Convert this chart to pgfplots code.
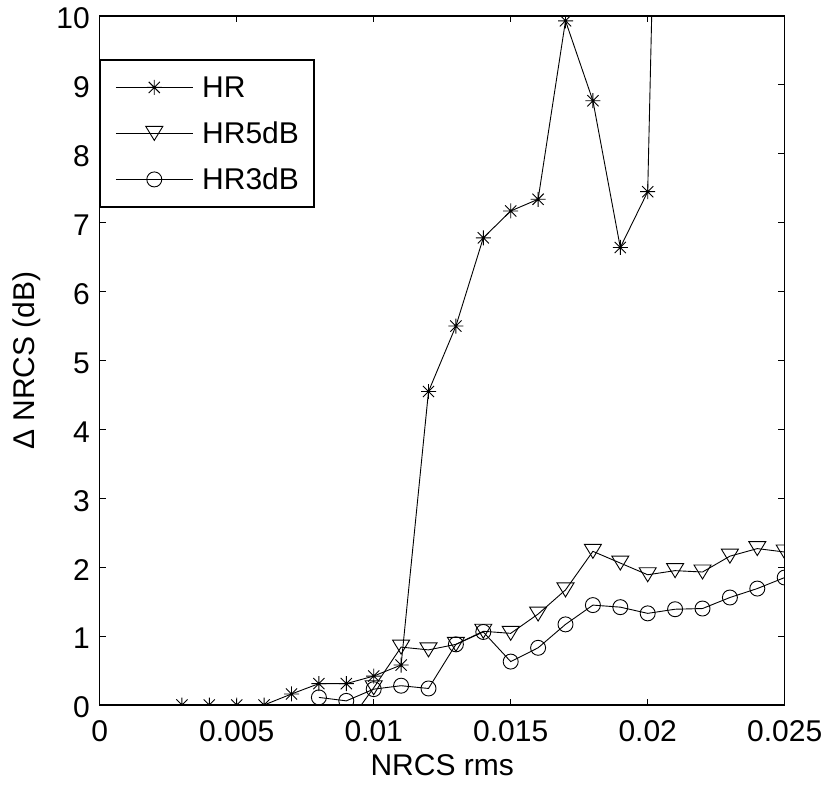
\documentclass[border=0pt]{standalone}
\usepackage{fontspec}
\setmainfont{Liberation Sans}
\usepackage{pgfplots}
\pgfplotsset{compat=1.18}

\pgfdeclareplotmark{mstar}{%
  \pgfpathmoveto{\pgfqpoint{0bp}{-7.5bp}}\pgfpathlineto{\pgfqpoint{0bp}{7.5bp}}%
  \pgfpathmoveto{\pgfqpoint{-7.5bp}{0bp}}\pgfpathlineto{\pgfqpoint{7.5bp}{0bp}}%
  \pgfpathmoveto{\pgfqpoint{-5.6bp}{-5.6bp}}\pgfpathlineto{\pgfqpoint{5.6bp}{5.6bp}}%
  \pgfpathmoveto{\pgfqpoint{-5.6bp}{5.6bp}}\pgfpathlineto{\pgfqpoint{5.6bp}{-5.6bp}}%
  \pgfusepathqstroke}
\pgfdeclareplotmark{mtri}{%
  \pgfpathmoveto{\pgfqpoint{-8.5bp}{7bp}}\pgfpathlineto{\pgfqpoint{8.5bp}{7bp}}%
  \pgfpathlineto{\pgfqpoint{0bp}{-7bp}}\pgfpathclose\pgfusepathqstroke}
\pgfdeclareplotmark{mcirc}{%
  \pgfpathcircle{\pgfpointorigin}{7.5bp}\pgfusepathqstroke}

\begin{document}
\begin{tikzpicture}
\begin{axis}[
  scale only axis, width=685bp, height=689bp,
  xmin=0, xmax=0.025, ymin=0, ymax=10,
  scaled x ticks=false, scaled y ticks=false,
  xtick={0,0.005,0.01,0.015,0.02,0.025},
  xticklabels={0,0.005,0.01,0.015,0.02,0.025},
  ytick={0,1,2,3,4,5,6,7,8,9,10},
  yticklabels={0,1,2,3,4,5,6,7,8,9,10},
  tick align=inside, tick pos=both,
  major tick length=6.5bp,
  every tick/.style={black, line width=1bp},
  axis line style={line width=1.3bp},
  font=\fontsize{30bp}{36bp}\selectfont,
  xticklabel style={inner sep=0pt, anchor=north, yshift=-15.7bp},
  yticklabel style={inner sep=0pt, anchor=east, xshift=-9.7bp, yshift=-2.5bp},
  xlabel={NRCS rms},
  ylabel={Δ NRCS (dB)},
  xlabel style={at={(axis description cs:0.5,-0.103)}, anchor=base, inner sep=0pt},
  ylabel style={at={(axis description cs:-0.0945,0.5)}, anchor=base, inner sep=0pt},
  clip marker paths=true,
  legend style={at={(axis description cs:0,0.9372)}, anchor=north west,
    draw=black, line width=1.3bp, inner xsep=15bp, inner ysep=17bp,
    row sep=25bp, column sep=9bp,
    nodes={inner sep=0pt, text height=21bp, text depth=0bp},
    font=\fontsize{30bp}{36bp}\selectfont},
  legend cell align=left,
  legend image code/.code={\draw[mark repeat=2,mark phase=2,#1] plot coordinates {(0bp,0bp) (38.5bp,0bp) (77bp,0bp)};},
]
\addplot[black, line width=0.9bp, mark=mstar] coordinates {
 (0.003,0) (0.004,0) (0.005,0) (0.006,0) (0.007,0.16) (0.008,0.31) (0.009,0.31)
 (0.010,0.42) (0.011,0.58) (0.012,4.55) (0.013,5.5) (0.014,6.78) (0.015,7.17)
 (0.016,7.34) (0.017,9.93) (0.018,8.77) (0.019,6.64) (0.020,7.45) (0.021,25)
};
\addlegendentry{HR}
\addplot[black, line width=0.9bp, mark=mtri] coordinates {
 (0.009,-0.3) (0.010,0.25) (0.011,0.84) (0.012,0.80) (0.013,0.88) (0.014,1.07)
 (0.015,1.04) (0.016,1.32) (0.017,1.67) (0.018,2.23) (0.019,2.06) (0.020,1.89)
 (0.021,1.95) (0.022,1.93) (0.023,2.16) (0.024,2.27) (0.025,2.22)
};
\addlegendentry{HR5dB}
\addplot[black, line width=0.9bp, mark=mcirc] coordinates {
 (0.008,0.11) (0.009,0.06) (0.010,0.23) (0.011,0.28) (0.012,0.24) (0.013,0.88)
 (0.014,1.06) (0.015,0.63) (0.016,0.83) (0.017,1.17) (0.018,1.45) (0.019,1.42)
 (0.020,1.33) (0.021,1.39) (0.022,1.40) (0.023,1.56) (0.024,1.69) (0.025,1.85)
};
\addlegendentry{HR3dB}
\end{axis}
\pgfresetboundingbox
\path[use as bounding box] (-99.7bp,-81bp) rectangle (729.3bp,705bp);
\end{tikzpicture}
\end{document}
